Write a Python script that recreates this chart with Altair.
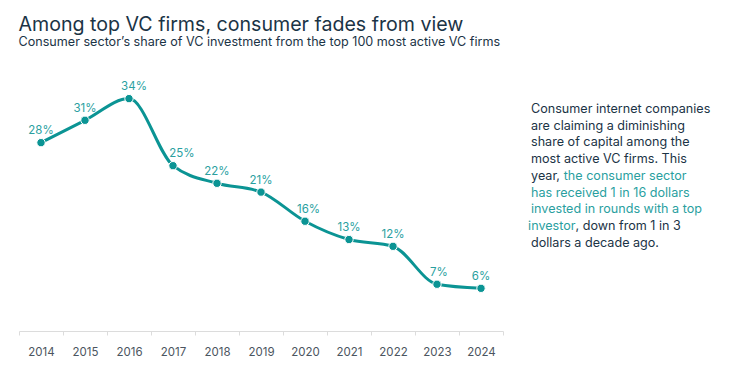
import altair as alt
import pandas as pd

years = ["2014", "2015", "2016", "2017", "2018", "2019", "2020", "2021", "2022", "2023", "2024"]
shares = [27.8, 31.1, 34.3, 24.4, 21.8, 20.5, 16.2, 13.5, 12.5, 6.9, 6.3]
labels = ["28%", "31%", "34%", "25%", "22%", "21%", "16%", "13%", "12%", "7%", "6%"]

# left-aligned note segments: text, line index, x offset, colour kind
left_text = [
    "Consumer internet companies",
    "are claiming a diminishing",
    "share of capital among the",
    "most active VC firms. This",
    "the consumer sector",
    "has received 1 in 16 dollars",
    "invested in rounds with a top",
    ", down from 1 in 3",
    "dollars a decade ago.",
]
left_line = [0, 1, 2, 3, 4, 5, 6, 7, 8]
left_x = [0, 0, 0, 0, 32.7, 0, 0, 44.5, 0]
left_kind = ["d", "d", "d", "d", "t", "t", "t", "d", "d"]

# right-aligned segments (end at the split point)
right_text = ["year,", "investor"]
right_line = [4, 7]
right_x = [29, 44.5]
right_kind = ["d", "t"]

TEAL = "#0b9494"
TEAL_LIGHT = "#2a9f9f"
DARK = "#1b3446"
FONT = "Inter"

# horizontal nudges of some value labels (style, in px)
LABEL_SHIFT = {"2016": 5, "2017": 9, "2020": 3.5, "2023": 2}

df = pd.DataFrame({"year": years, "share": shares, "label": labels})

W, H = 484, 271
NX, NY, LH = 512, 49, 16.7


def note_df(texts, lines, xs, kinds):
    return pd.DataFrame({
        "text": texts,
        "px": [NX + d for d in xs],
        "py": [NY + LH * l for l in lines],
        "kind": kinds,
    })


x = alt.X("year:O", title=None,
          scale=alt.Scale(paddingInner=0, paddingOuter=0),
          axis=alt.Axis(labelAngle=0, tickBand="extent", domainColor="#dcdcdc",
                        tickColor="#dcdcdc", tickSize=4, labelColor="#4b5560",
                        labelFontSize=11.5, labelFont=FONT, labelPadding=11, domainWidth=1))
y = alt.Y("share:Q", title=None, scale=alt.Scale(domain=[0, 40], nice=False), axis=None)

base = alt.Chart(df).encode(x=x, y=y)
line = base.mark_line(color=TEAL, strokeWidth=3, interpolate="monotone")
pts = base.mark_point(filled=True, color=TEAL, size=70, opacity=1, stroke="white", strokeWidth=1)

label_layers = []
shifts = sorted(set(LABEL_SHIFT.get(yr, 0) for yr in years))
for s in shifts:
    sel = [yr for yr in years if LABEL_SHIFT.get(yr, 0) == s]
    label_layers.append(
        base.transform_filter(alt.FieldOneOfPredicate(field="year", oneOf=sel))
        .mark_text(color=TEAL_LIGHT, fontSize=11.5, font=FONT, baseline="middle", dy=-11.5, dx=s)
        .encode(text="label:N")
    )

color = alt.Color("kind:N", scale=alt.Scale(domain=["d", "t"], range=[DARK, TEAL_LIGHT]), legend=None)

left = alt.Chart(note_df(left_text, left_line, left_x, left_kind)).mark_text(
    align="left", baseline="middle", fontSize=12.6, font=FONT).encode(
    x=alt.X("px:Q", scale=None), y=alt.Y("py:Q", scale=None), text="text:N", color=color)
right = alt.Chart(note_df(right_text, right_line, right_x, right_kind)).mark_text(
    align="right", baseline="middle", fontSize=12.6, font=FONT).encode(
    x=alt.X("px:Q", scale=None), y=alt.Y("py:Q", scale=None), text="text:N", color=color)

chart = alt.layer(line, pts, *label_layers, left, right).properties(
    width=W, height=H,
    title=alt.TitleParams(
        text="Among top VC firms, consumer fades from view",
        subtitle="Consumer sector\u2019s share of VC investment from the top 100 most active VC firms",
        anchor="start", font=FONT, fontSize=19.6, fontWeight="normal", color=DARK,
        subtitleFont=FONT, subtitleFontSize=12.6, subtitleColor=DARK, subtitlePadding=1, offset=10,
    ),
    padding={"left": 10, "top": 6, "right": 5, "bottom": 5},
).configure_view(stroke=None).configure_axis(grid=False)

chart.save("out.html", embed_options={"renderer": "svg", "actions": False})
